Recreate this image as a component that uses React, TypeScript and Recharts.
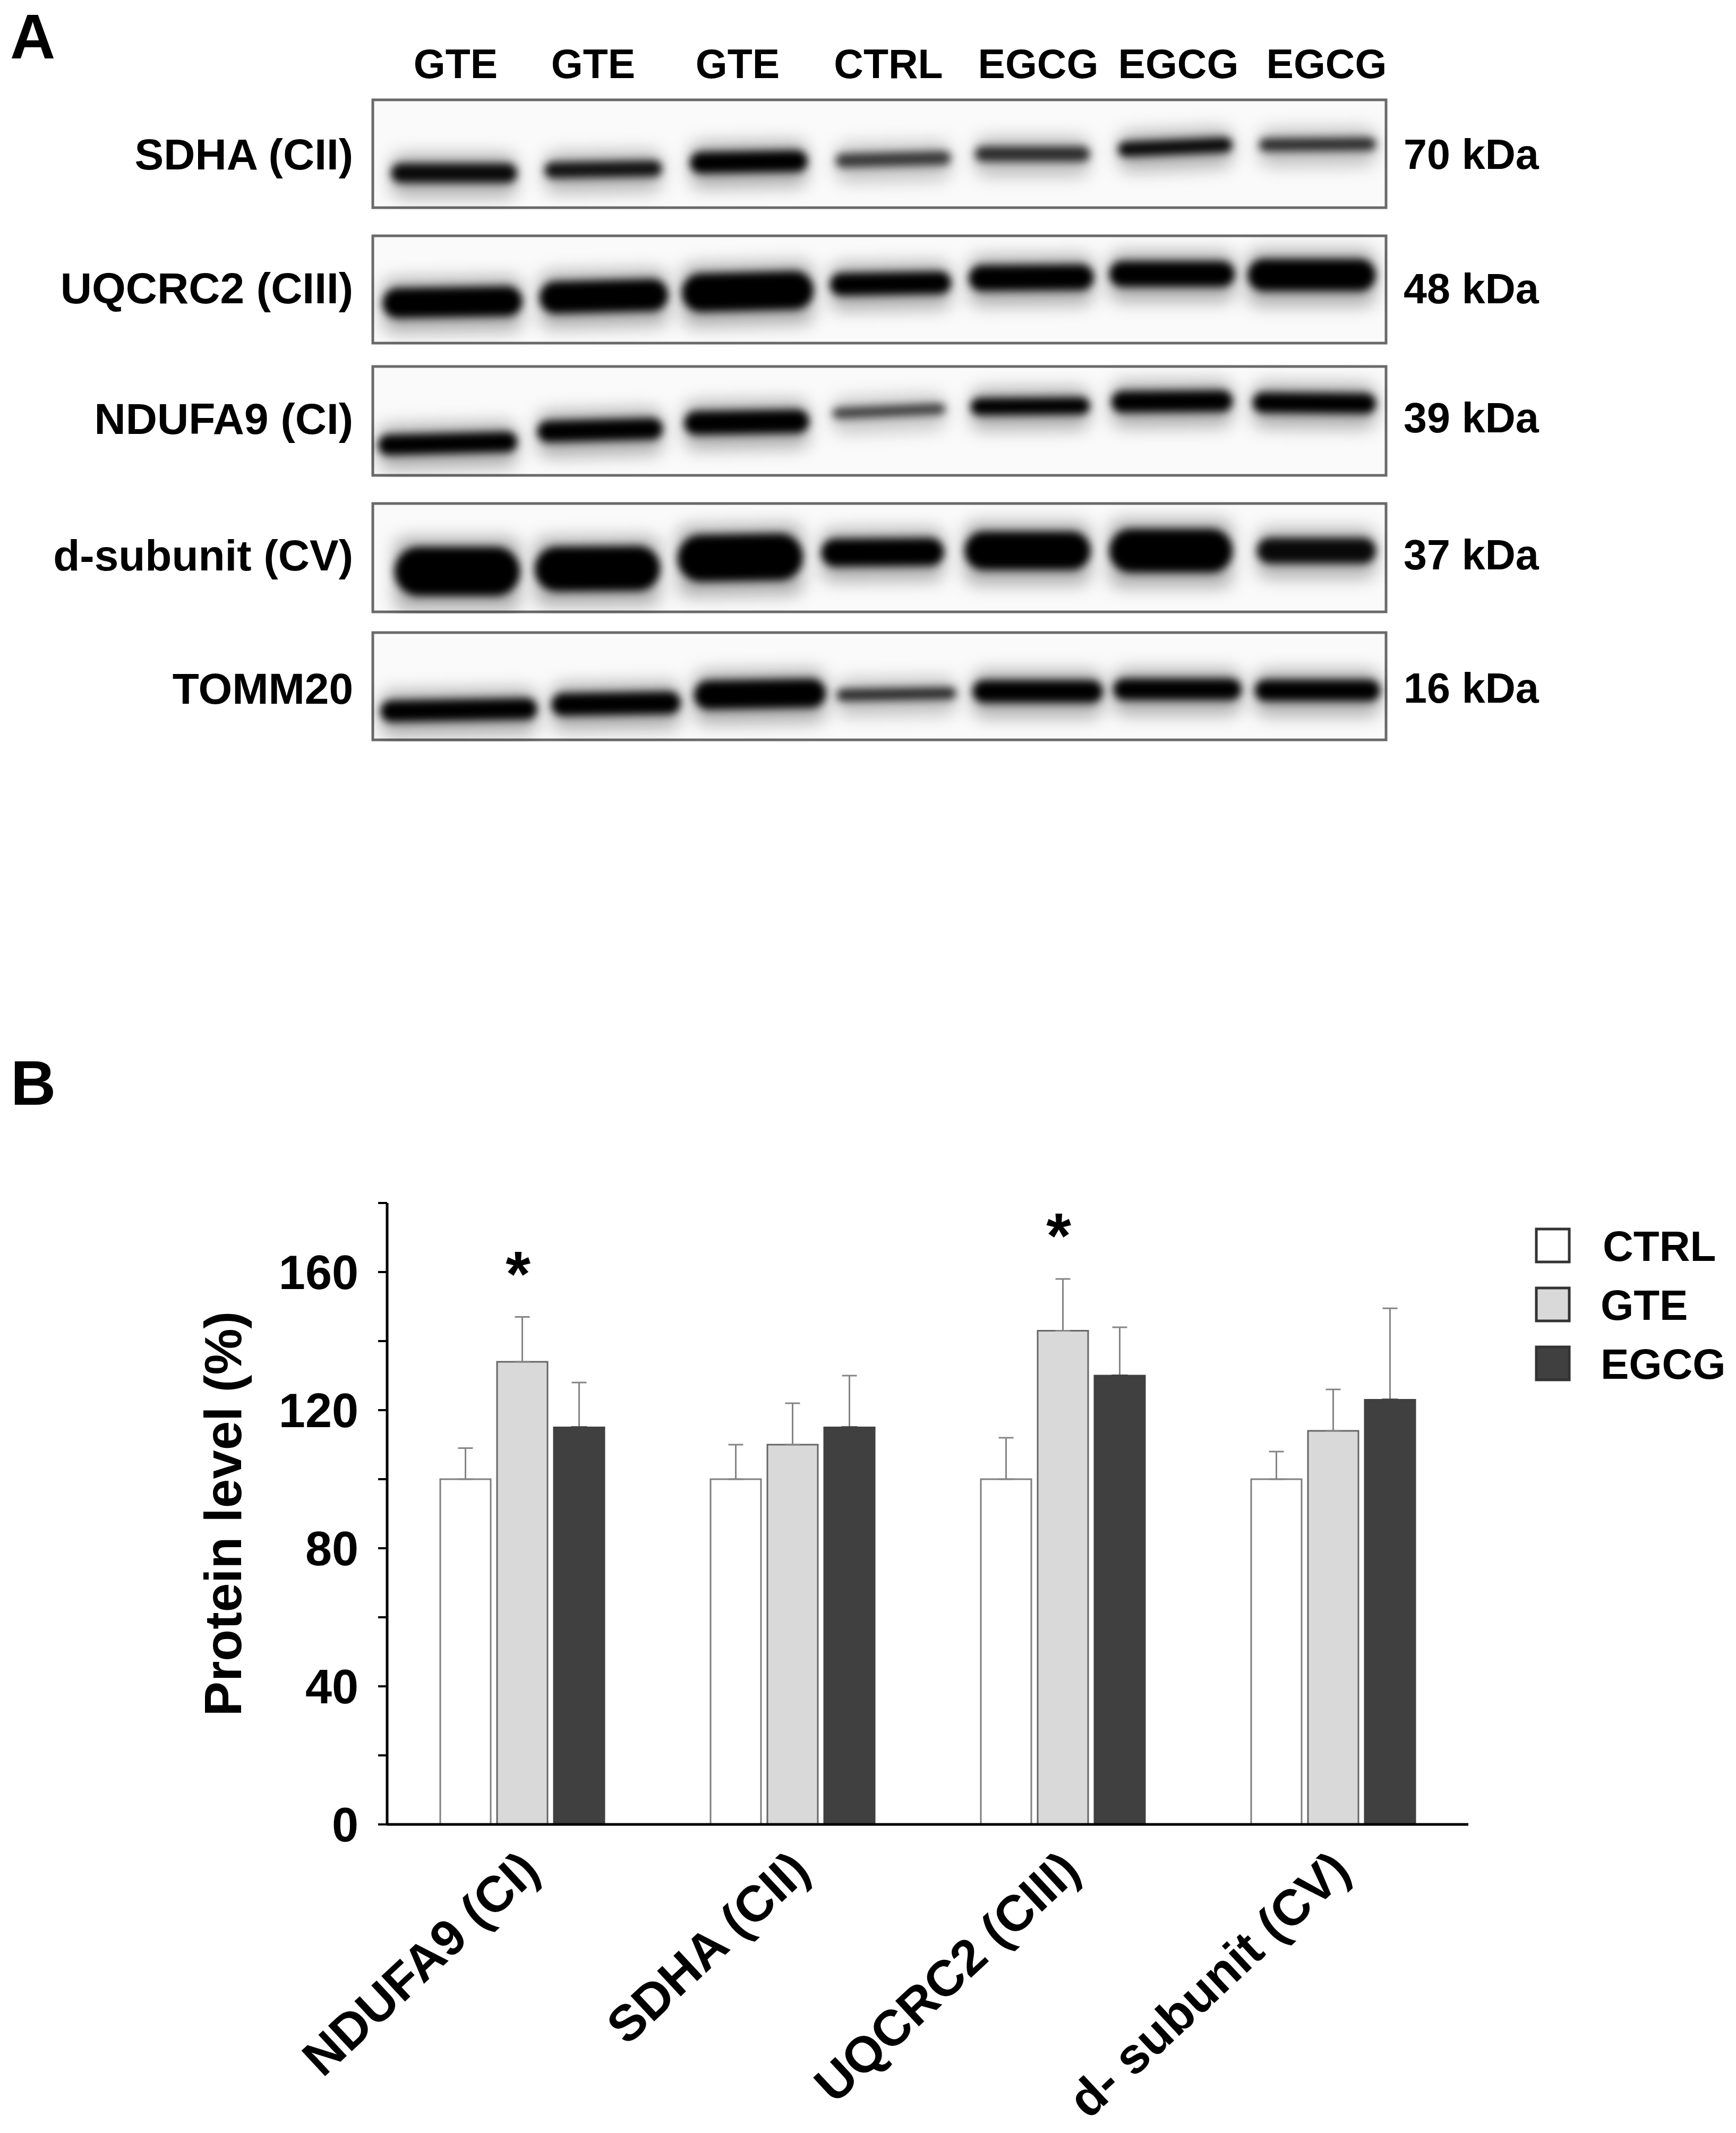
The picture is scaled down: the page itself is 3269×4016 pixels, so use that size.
import React from "react";
import {
  Bar,
  BarChart,
  ErrorBar,
  Label,
  Legend,
  ReferenceArea,
  ReferenceDot,
  Scatter,
  ScatterChart,
  XAxis,
  YAxis,
} from "recharts";

const FONT = '"Liberation Sans", Arial, sans-serif';

// panel B values
const proteins = ["NDUFA9 (CI)", "SDHA (CII)", "UQCRC2 (CIII)", "d- subunit (CV)"];
const ctrlValues = [100, 100, 100, 100];
const gteValues = [134, 110, 143, 114];
const egcgValues = [115, 115, 130, 123];
const ctrlErrors = [9, 10, 12, 8];
const gteErrors = [13, 12, 15, 12];
const egcgErrors = [13, 15, 14, 26.5];
const yTicks = [0, 20, 40, 60, 80, 100, 120, 140, 160, 180];
const starProteins = ["NDUFA9 (CI)", "UQCRC2 (CIII)"];
const starLevels = [147, 158];
const seriesFill: Record<string, string> = { CTRL: "#ffffff", GTE: "#d9d9d9", EGCG: "#404040" };

const table = proteins.map((protein, i) => ({
  protein,
  CTRL: ctrlValues[i],
  GTE: gteValues[i],
  EGCG: egcgValues[i],
  ctrlErr: [0, ctrlErrors[i]],
  gteErr: [0, gteErrors[i]],
  egcgErr: [0, egcgErrors[i]],
  // paints over the lower cap of the whisker on the dark bars
  egcgCap: [0, 0],
}));

// panel A, band readings per lane on each membrane
const laneNames = ["GTE", "GTE", "GTE", "CTRL", "EGCG", "EGCG", "EGCG"];
const laneLabelX = [858, 1117, 1389, 1673, 1955, 2219, 2498];

const sdhaLane = [153, 434, 708, 980, 1242, 1511, 1779];
const sdhaWidth = [237, 221, 221, 217, 216, 215, 220];
const sdhaRun = [138, 131, 117, 112, 102, 89, 84];
const sdhaThick = [36, 30, 40, 26, 28, 28, 24];
const sdhaDensity = [0.95, 0.9, 1, 0.72, 0.78, 0.95, 0.78];
const sdhaTilt = [0, -1, -1, -1.5, 0, -2.5, -0.5];

const uqcrcLane = [150, 435, 706, 975, 1240, 1505, 1768];
const uqcrcWidth = [263, 242, 248, 228, 235, 236, 241];
const uqcrcRun = [125, 114, 105, 90, 79, 72, 74];
const uqcrcThick = [56, 60, 72, 42, 48, 48, 60];
const uqcrcDensity = [1, 1, 1, 1, 1, 1, 1];
const uqcrcTilt = [-1, -1.5, -1.5, -1, -0.5, 0, 0];

const ndufaLane = [141, 428, 704, 972, 1238, 1505, 1773];
const ndufaWidth = [262, 236, 235, 213, 224, 228, 232];
const ndufaRun = [145, 120, 105, 84, 75, 66, 69];
const ndufaThick = [38, 40, 44, 20, 32, 40, 38];
const ndufaDensity = [1, 1, 1, 0.7, 1, 1, 1];
const ndufaTilt = [-1.5, -1.5, -1, -2.5, -0.5, -0.5, 0.5];

const dSubLane = [159, 423, 692, 960, 1233, 1503, 1777];
const dSubWidth = [236, 236, 236, 231, 237, 232, 224];
const dSubRun = [128, 123, 102, 92, 89, 89, 89];
const dSubThick = [92, 84, 88, 52, 72, 82, 48];
const dSubDensity = [1, 1, 1, 1, 1, 1, 0.95];
const dSubTilt = [0, -0.5, -1, -0.5, 0, 0, 0];

const tommLane = [162, 458, 729, 986, 1252, 1515, 1779];
const tommWidth = [295, 243, 248, 225, 245, 241, 236];
const tommRun = [146, 134, 116, 116, 111, 107, 109];
const tommThick = [40, 42, 54, 22, 42, 40, 40];
const tommDensity = [1, 1, 1, 0.8, 1, 1, 1];
const tommTilt = [-1, -1, -1, -1, 0, 0, 0];

const buildBands = (
  lane: number[],
  width: number[],
  run: number[],
  thick: number[],
  density: number[],
  tilt: number[],
) =>
  lane.map((x, i) => ({
    x,
    run: run[i],
    w: width[i],
    t: thick[i],
    d: density[i],
    tilt: tilt[i],
  }));

const membranes = [
  { name: "SDHA (CII)", size: "70 kDa", top: 188, h: 203, labelY: 290, kdaY: 290, bands: buildBands(sdhaLane, sdhaWidth, sdhaRun, sdhaThick, sdhaDensity, sdhaTilt) },
  { name: "UQCRC2 (CIII)", size: "48 kDa", top: 444, h: 202, labelY: 542, kdaY: 543, bands: buildBands(uqcrcLane, uqcrcWidth, uqcrcRun, uqcrcThick, uqcrcDensity, uqcrcTilt) },
  { name: "NDUFA9 (CI)", size: "39 kDa", top: 690, h: 205, labelY: 788, kdaY: 786, bands: buildBands(ndufaLane, ndufaWidth, ndufaRun, ndufaThick, ndufaDensity, ndufaTilt) },
  { name: "d-subunit (CV)", size: "37 kDa", top: 948, h: 204, labelY: 1045, kdaY: 1044, bands: buildBands(dSubLane, dSubWidth, dSubRun, dSubThick, dSubDensity, dSubTilt) },
  { name: "TOMM20", size: "16 kDa", top: 1191, h: 202, labelY: 1296, kdaY: 1295, bands: buildBands(tommLane, tommWidth, tommRun, tommThick, tommDensity, tommTilt) },
];

const BLOT_WIDTH = 1908;

function BandShape(props: any) {
  const { cx, cy, payload } = props;
  const { w, t, d, tilt } = payload;
  return (
    <g transform={`rotate(${tilt} ${cx} ${cy})`}>
      <rect
        x={cx - w / 2}
        y={cy - t / 2 - 18}
        width={w}
        height={t + 46}
        rx={22}
        fill="#000"
        fillOpacity={0.3 * d}
        style={{ filter: "blur(16px)" }}
      />
      <rect
        x={cx - w / 2}
        y={cy - t / 2}
        width={w}
        height={t}
        rx={t / 2}
        fill="#000"
        fillOpacity={d}
        style={{ filter: "blur(8px)" }}
      />
    </g>
  );
}

function Membrane({ top, h, bands }: { top: number; h: number; bands: any[] }) {
  return (
    <div style={{ position: "absolute", left: 698, top: top - 4, width: BLOT_WIDTH + 8, height: h + 8 }}>
      <div style={{ position: "absolute", left: 4, top: 4, width: BLOT_WIDTH, height: h, background: "#fafafa" }} />
      <ScatterChart
        width={BLOT_WIDTH + 8}
        height={h + 8}
        margin={{ top: 4, right: 4, bottom: 4, left: 4 }}
        style={{ position: "absolute", left: 0, top: 0 }}
      >
        <XAxis type="number" dataKey="x" domain={[0, BLOT_WIDTH]} hide />
        <YAxis type="number" dataKey="run" domain={[0, h]} reversed hide />
        <ReferenceArea x1={0} x2={BLOT_WIDTH} y1={0} y2={h} fill="none" stroke="#6a6a6a" strokeWidth={5} />
        <Scatter data={bands} shape={BandShape} isAnimationActive={false} />
      </ScatterChart>
    </div>
  );
}

function ProteinTick({ x, y, payload }: any) {
  return (
    <text
      x={x + 37}
      y={y + 85}
      textAnchor="end"
      transform={`rotate(-43 ${x + 37} ${y + 85})`}
      fontFamily={FONT}
      fontWeight={700}
      fontSize={95}
      fill="#000"
    >
      {payload.value}
    </text>
  );
}

function BoxLegend({ payload }: any) {
  return (
    <svg width={380} height={340} style={{ display: "block", overflow: "visible" }}>
      {(payload || []).map((entry: any, i: number) => (
        <g key={entry.value}>
          <rect
            x={4}
            y={4 + i * 111}
            width={62}
            height={62}
            fill={seriesFill[entry.value]}
            stroke="#333"
            strokeWidth={5}
          />
          <text
            x={entry.value === "CTRL" ? 129 : 125}
            y={36 + i * 111}
            dominantBaseline="central"
            fontFamily={FONT}
            fontWeight={700}
            fontSize={80}
            fill="#000"
          >
            {entry.value}
          </text>
        </g>
      ))}
    </svg>
  );
}

const heading = { fontFamily: FONT, fontWeight: 700, fill: "#000" };

export default function App() {
  return (
    <div style={{ position: "absolute", left: 0, top: 0, width: 3269, height: 4016, background: "#fff", overflow: "hidden" }}>
      <svg width={3269} height={1500} style={{ position: "absolute", left: 0, top: 0 }}>
        <text x={19} y={110} fontSize={118} {...heading}>A</text>
        {laneNames.map((name, i) => (
          <text key={i} x={laneLabelX[i]} y={120} textAnchor="middle" dominantBaseline="central" fontSize={77} {...heading}>
            {name}
          </text>
        ))}
        {membranes.map((m) => (
          <g key={m.name}>
            <text x={665} y={m.labelY} textAnchor="end" dominantBaseline="central" fontSize={82} {...heading}>
              {m.name}
            </text>
            <text x={2643} y={m.kdaY} dominantBaseline="central" fontSize={79} {...heading}>
              {m.size}
            </text>
          </g>
        ))}
      </svg>

      <svg width={400} height={300} style={{ position: "absolute", left: 0, top: 1900 }}>
        <text x={20} y={180} fontSize={118} {...heading}>B</text>
      </svg>

      {membranes.map((m) => (
        <Membrane key={m.name} top={m.top} h={m.h} bands={m.bands} />
      ))}

      <div style={{ position: "absolute", left: 0, top: 2200 }}>
        <BarChart
          width={3269}
          height={1816}
          data={table}
          barSize={95}
          barGap={12}
          margin={{ top: 65, right: 504, bottom: 281, left: 329 }}
        >
          <XAxis
            dataKey="protein"
            interval={0}
            height={300}
            tickLine={false}
            axisLine={{ stroke: "#000", strokeWidth: 5 }}
            tick={<ProteinTick />}
          />
          <YAxis
            width={400}
            domain={[0, 180]}
            ticks={yTicks}
            interval={0}
            tickSize={17}
            tickMargin={37}
            tickLine={{ stroke: "#000", strokeWidth: 4 }}
            axisLine={{ stroke: "#000", strokeWidth: 5 }}
            tickFormatter={(v: number) => (v % 40 === 0 && v < 180 ? String(v) : "")}
            tick={{ fontFamily: FONT, fontWeight: 700, fontSize: 90, fill: "#000" }}
          >
            <Label
              value="Protein level (%)"
              angle={-90}
              position="insideLeft"
              offset={90}
              style={{ fontFamily: FONT, fontWeight: 700, fontSize: 98, fill: "#000", textAnchor: "middle" }}
            />
          </YAxis>
          <Legend
            layout="vertical"
            align="center"
            verticalAlign="middle"
            itemSorter={null}
            content={<BoxLegend />}
            wrapperStyle={{ position: "absolute", left: 2889, top: 110, width: 380, height: 340 }}
          />
          <Bar dataKey="CTRL" fill={seriesFill.CTRL} stroke="#7f7f7f" strokeWidth={3} isAnimationActive={false}>
            <ErrorBar dataKey="ctrlErr" direction="y" width={14} stroke="#858585" strokeWidth={3} isAnimationActive={false} />
          </Bar>
          <Bar dataKey="GTE" fill={seriesFill.GTE} stroke="#666" strokeWidth={3} isAnimationActive={false}>
            <ErrorBar dataKey="gteErr" direction="y" width={14} stroke="#858585" strokeWidth={3} isAnimationActive={false} />
          </Bar>
          <Bar dataKey="EGCG" fill={seriesFill.EGCG} stroke={seriesFill.EGCG} strokeWidth={3} isAnimationActive={false}>
            <ErrorBar dataKey="egcgErr" direction="y" width={14} stroke="#858585" strokeWidth={3} isAnimationActive={false} />
            <ErrorBar dataKey="egcgCap" direction="y" width={15} stroke={seriesFill.EGCG} strokeWidth={4} isAnimationActive={false} />
          </Bar>
          {starProteins.map((p, i) => (
            <ReferenceDot
              key={p}
              x={p}
              y={starLevels[i]}
              r={0}
              stroke="none"
              label={{ value: "*", position: "top", offset: 40, dx: -8, fontFamily: FONT, fontWeight: 700, fontSize: 120, fill: "#000" }}
            />
          ))}
        </BarChart>
      </div>
    </div>
  );
}
